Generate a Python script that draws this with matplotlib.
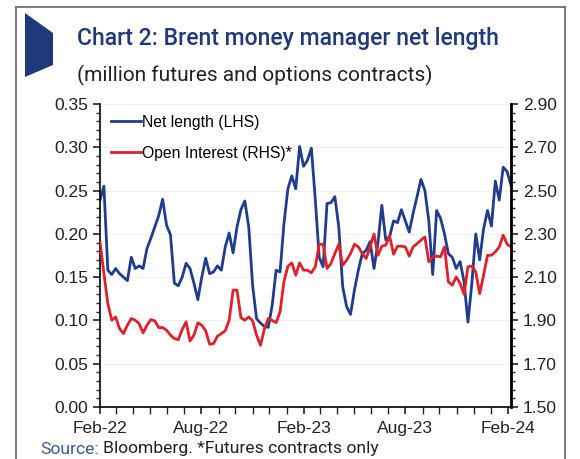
import matplotlib
matplotlib.use('Agg')
import matplotlib.pyplot as plt
import matplotlib.dates as mdates
from matplotlib.patches import Polygon
from matplotlib.lines import Line2D
from matplotlib.ticker import FixedLocator, FormatStrFormatter
import numpy as np
import pandas as pd

# weekly readings, Feb-22 .. Feb-24
net_length = [0.239, 0.255, 0.158, 0.153, 0.160, 0.154, 0.150, 0.146, 0.173, 0.160,
              0.163, 0.160, 0.183, 0.195, 0.208, 0.221, 0.240, 0.210, 0.199, 0.143,
              0.140, 0.150, 0.166, 0.160, 0.143, 0.124, 0.150, 0.172, 0.154, 0.156,
              0.163, 0.158, 0.185, 0.201, 0.178, 0.208, 0.228, 0.238, 0.208, 0.140,
              0.102, 0.097, 0.093, 0.092, 0.118, 0.158, 0.156, 0.212, 0.252, 0.267,
              0.252, 0.301, 0.278, 0.285, 0.299, 0.240, 0.173, 0.162, 0.235, 0.236,
              0.243, 0.208, 0.139, 0.116, 0.107, 0.135, 0.158, 0.177, 0.181, 0.191,
              0.160, 0.189, 0.233, 0.193, 0.197, 0.215, 0.213, 0.228, 0.215, 0.202,
              0.224, 0.243, 0.263, 0.250, 0.215, 0.153, 0.227, 0.218, 0.200, 0.177,
              0.173, 0.160, 0.168, 0.145, 0.098, 0.143, 0.200, 0.170, 0.206, 0.227,
              0.209, 0.261, 0.239, 0.277, 0.272, 0.256]

open_interest = [2.263, 2.117, 1.978, 1.901, 1.916, 1.862, 1.839, 1.878, 1.909, 1.901,
                 1.885, 1.842, 1.878, 1.904, 1.898, 1.867, 1.867, 1.855, 1.832, 1.816,
                 1.811, 1.858, 1.893, 1.805, 1.832, 1.889, 1.878, 1.852, 1.790, 1.793,
                 1.827, 1.839, 1.852, 1.901, 2.040, 2.040, 1.913, 1.901, 1.916, 1.898,
                 1.832, 1.785, 1.860, 1.909, 1.900, 1.890, 1.940, 2.080, 2.150, 2.166,
                 2.109, 2.166, 2.132, 2.132, 2.120, 2.148, 2.252, 2.252, 2.140, 2.163,
                 2.209, 2.252, 2.155, 2.178, 2.209, 2.252, 2.240, 2.209, 2.186, 2.240,
                 2.299, 2.201, 2.243, 2.248, 2.290, 2.206, 2.243, 2.243, 2.240, 2.197,
                 2.240, 2.255, 2.271, 2.286, 2.171, 2.194, 2.197, 2.194, 2.240, 2.078,
                 2.063, 2.101, 2.071, 2.021, 2.148, 2.151, 2.124, 2.024, 2.109, 2.201,
                 2.201, 2.217, 2.240, 2.294, 2.252, 2.240]

dates = pd.date_range('2022-02-01', periods=len(net_length), freq='7D')

title = 'Chart 2: Brent money manager net length'
subtitle = '(million futures and options contracts)'
navy = '#1f3a7a'
blue = '#1f3c8f'
red = '#e0202a'
tick_font = ['Liberation Sans', 'DejaVu Sans']

W, H = 580, 459
fig = plt.figure(figsize=(W / 100, H / 100), dpi=100)
plt.rcParams['font.family'] = ['Roboto', 'DejaVu Sans']

def fx(px):
    return px / W

def fy(py):
    return 1 - py / H

# frame and flag
for xs, ys in [([16, 16], [470, 7]), ([16, 565], [7, 7]), ([565, 565], [7, 470])]:
    fig.add_artist(Line2D([fx(x) for x in xs], [fy(y) for y in ys], color='#666666', lw=1.2))
flag = Polygon([(fx(25), fy(13)), (fx(53), fy(33)), (fx(53), fy(65)), (fx(25), fy(77))],
               closed=True, facecolor=navy, edgecolor='none', transform=fig.transFigure)
fig.add_artist(flag)

fig.text(fx(77), fy(38), title, color=navy, fontsize=16.6, fontweight='medium', va='center', ha='left')
fig.text(fx(77), fy(75), subtitle, color='#222222', fontsize=15, va='center', ha='left')
fig.text(fx(40), fy(449), 'Source:', color='#3a5a9a', fontsize=12.6, va='center', ha='left')
fig.text(fx(103), fy(449), 'Bloomberg. *Futures contracts only', color='#222222', fontsize=12.6,
         va='center', ha='left')

ax = fig.add_axes([fx(100), fy(407), fx(511) - fx(100), fy(104) - fy(407)])
ax2 = ax.twinx()

ax.plot(dates, net_length, color=blue, lw=2, label='Net length (LHS)')
ax2.plot(dates, open_interest, color=red, lw=2, label='Open Interest (RHS)*')

ax.set_xlim(dates[0], dates[-1])
ax.set_ylim(0, 0.35)
ax2.set_ylim(1.5, 2.9)

ax.yaxis.set_major_locator(FixedLocator(np.linspace(0, 0.35, 8)))
ax.yaxis.set_minor_locator(FixedLocator(np.linspace(0, 0.35, 36)))
ax.yaxis.set_major_formatter(FormatStrFormatter('%.2f'))
ax2.yaxis.set_major_locator(FixedLocator(np.linspace(1.5, 2.9, 8)))
ax2.yaxis.set_minor_locator(FixedLocator(np.linspace(1.5, 2.9, 36)))
ax2.yaxis.set_major_formatter(FormatStrFormatter('%.2f'))

ax.xaxis.set_major_locator(mdates.MonthLocator(bymonth=[2, 8]))
ax.xaxis.set_minor_locator(mdates.MonthLocator())
ax.xaxis.set_major_formatter(mdates.DateFormatter('%b-%y'))

ax.grid(axis='y', color='#f0f0f0', lw=0.8)
ax.set_axisbelow(True)

for a in (ax, ax2):
    a.spines['top'].set_visible(False)
    a.tick_params(which='major', length=5, width=1.2, color='#222222', labelsize=12.5,
                  labelcolor='#222222', direction='out')
    a.tick_params(which='minor', length=3, width=1, color='#222222', direction='out')
    for lab in a.get_xticklabels() + a.get_yticklabels():
        lab.set_family(tick_font)
ax.spines['left'].set_linewidth(1.2)
ax.spines['bottom'].set_linewidth(1.2)
ax2.spines['right'].set_linewidth(2)
ax.tick_params(axis='x', which='both', length=5, pad=5)
ax2.spines['left'].set_visible(False)
ax2.spines['bottom'].set_visible(False)

h1, l1 = ax.get_legend_handles_labels()
h2, l2 = ax2.get_legend_handles_labels()
leg = ax2.legend(h1 + h2, l1 + l2, loc='upper left', frameon=False,
                 prop={'family': tick_font, 'size': 11.3},
                 handlelength=1.9, handletextpad=0.1, labelspacing=1.0,
                 borderaxespad=0.3, bbox_to_anchor=(0.0, 1.0))

fig.savefig('out.png', dpi=100)
